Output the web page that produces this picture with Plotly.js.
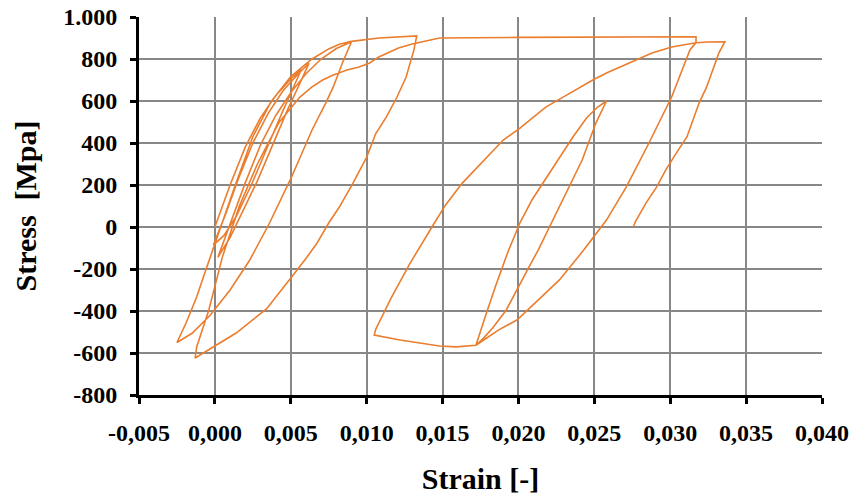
<!DOCTYPE html>
<html>
<head>
<meta charset="utf-8">
<script src="https://cdn.plot.ly/plotly-3.0.1.min.js"></script>
<style>html,body{margin:0;padding:0;background:#fff;}#chart{width:857px;height:504px;}</style>
</head>
<body>
<div id="chart"></div>
<script>
// ---- data ----
// small loops near the origin
const smallLoopsStrain = [0, 0.0010, 0.0020, 0.0030, 0.0040, 0.0050, 0.0057,
  0.0052, 0.0044, 0.0034, 0.0024, 0.0014, 0.0006, -0.0001,
  0.0007, 0.0015, 0.0025, 0.0035, 0.0045, 0.0055, 0.0062,
  0.0057, 0.0048, 0.0038, 0.0028, 0.0018, 0.0010, 0.0002,
  0.0010, 0.0020, 0.0030, 0.0040, 0.0050, 0.0060, 0.0070, 0.0080, 0.0090];
const smallLoopsStress = [0, 200, 380, 520, 625, 705, 750,
  670, 540, 370, 200, 50, -40, -86,
  60, 220, 400, 540, 650, 730, 780,
  700, 560, 390, 220, 70, -50, -144,
  10, 210, 390, 530, 640, 730, 800, 850, 882];
// unloading from 0.009 down to the first compression peak
const unloadAStrain = [0.0084, 0.0078, 0.0073, 0.0064, 0.0050, 0.0036, 0.0023, 0.0010, -0.0003, -0.0015, -0.0025];
const unloadAStress = [781, 667, 590, 462, 230, 19, -157, -300, -419, -506, -550];
// reloading from the compression peak to 0.0133
const reloadAStrain = [-0.0019, -0.0012, -0.0006, 0.0003, 0.0013, 0.0025, 0.0037, 0.0050, 0.0064, 0.0075, 0.0082, 0.0090, 0.0108, 0.0133];
const reloadAStress = [-457, -333, -205, -14, 190, 430, 597, 716, 800, 848, 870, 884, 900, 910];
// unloading to the second compression peak
const unloadBStrain = [0.0131, 0.0126, 0.0120, 0.0113, 0.0106, 0.0100, 0.0091, 0.0082, 0.0075, 0.0067, 0.0060, 0.0049, 0.0034, 0.0014, -0.0002, -0.0013];
const unloadBStress = [840, 714, 619, 524, 445, 333, 209, 95, 19, -80, -150, -252, -390, -505, -576, -624];
// reloading up to the plateau
const reloadBStrain = [-0.0012, -0.0004, 0.0005, 0.0016, 0.0028, 0.0042, 0.0049, 0.0056, 0.0064, 0.0071, 0.0078, 0.0087, 0.0095, 0.0102, 0.0108, 0.0115, 0.0121, 0.0130, 0.0139, 0.0148, 0.0200, 0.0250, 0.0317, 0.0317];
const reloadBStress = [-571, -395, -141, 97, 300, 495, 557, 619, 667, 700, 724, 748, 762, 781, 810, 833, 852, 871, 885, 900, 903, 905, 906, 878];
// unloading from the plateau end
const unloadCStrain = [0.0313, 0.0301, 0.0286, 0.0271, 0.0258, 0.0243, 0.0236, 0.0227, 0.0218, 0.0207, 0.0199, 0.0187, 0.0179, 0.0172];
const unloadCStress = [843, 620, 400, 190, 33, -110, -173, -252, -314, -386, -443, -490, -529, -563];
// inner loop
const innerUpStrain = [0.0178, 0.0185, 0.0193, 0.0201, 0.0209, 0.0218, 0.0227, 0.0236, 0.0245, 0.0252, 0.0258];
const innerUpStress = [-430, -280, -120, 20, 130, 230, 330, 430, 520, 570, 600];
const innerDownStrain = [0.0251, 0.0242, 0.0229, 0.0222, 0.0213, 0.0207, 0.0200, 0.0192, 0.0183, 0.0177, 0.0172];
const innerDownStress = [495, 319, 129, 20, -110, -190, -286, -395, -481, -529, -563];
// compression branch
const bottomStrain = [0.0159, 0.0148, 0.0139, 0.0122, 0.0105];
const bottomStress = [-571, -567, -557, -538, -515];
// last reloading and final unloading
const reloadDStrain = [0.0106, 0.0116, 0.0128, 0.0143, 0.0152, 0.0163, 0.0179, 0.0190, 0.0201, 0.0218, 0.0232, 0.0249, 0.0258, 0.0275, 0.0288, 0.0301, 0.0316, 0.0324, 0.0336];
const reloadDStress = [-487, -340, -180, 0, 105, 209, 333, 414, 471, 571, 629, 700, 733, 786, 829, 857, 876, 881, 882];
const finalStrain = [0.0332, 0.0328, 0.0324, 0.0319, 0.0315, 0.0311, 0.0304, 0.0297, 0.0291, 0.0284, 0.0277, 0.0276];
const finalStress = [828, 748, 667, 590, 510, 429, 352, 271, 190, 114, 24, 5];

const xTickVals = [-0.005, 0, 0.005, 0.010, 0.015, 0.020, 0.025, 0.030, 0.035, 0.040];
const xTickText = ["-0,005", "0,000", "0,005", "0,010", "0,015", "0,020", "0,025", "0,030", "0,035", "0,040"];
const yTickVals = [-800, -600, -400, -200, 0, 200, 400, 600, 800, 1000];
const yTickText = ["-800", "-600", "-400", "-200", "0", "200", "400", "600", "800", "1.000"];

const strain = [].concat(smallLoopsStrain, unloadAStrain, reloadAStrain, unloadBStrain, reloadBStrain,
  unloadCStrain, innerUpStrain, innerDownStrain, bottomStrain, reloadDStrain, finalStrain);
const stress = [].concat(smallLoopsStress, unloadAStress, reloadAStress, unloadBStress, reloadBStress,
  unloadCStress, innerUpStress, innerDownStress, bottomStress, reloadDStress, finalStress);

const tickFont = {family: "Liberation Serif, Times New Roman, serif", size: 24, color: "#000", weight: "bold"};
const titleFont = {family: "Liberation Serif, Times New Roman, serif", size: 30, color: "#000", weight: "bold"};

const trace = {
  x: strain, y: stress, type: "scatter", mode: "lines",
  line: {color: "#EA7D2E", width: 1.6},
  hoverinfo: "skip", showlegend: false
};

const layout = {
  width: 857, height: 504,
  margin: {l: 139, r: 35, t: 17, b: 109, autoexpand: false},
  paper_bgcolor: "#fff", plot_bgcolor: "#fff",
  showlegend: false,
  xaxis: {
    range: [-0.005, 0.040], tickvals: xTickVals, ticktext: xTickText,
    showgrid: true, gridcolor: "#878787", gridwidth: 2, zeroline: false,
    showline: true, linecolor: "#000", linewidth: 3,
    ticks: "outside", ticklen: 6, tickwidth: 3, tickcolor: "#000",
    tickfont: tickFont, ticklabelstandoff: 8, automargin: false,
    title: {text: "Strain [-]", font: titleFont, standoff: 24}
  },
  yaxis: {
    range: [-800, 1000], tickvals: yTickVals, ticktext: yTickText,
    showgrid: true, gridcolor: "#878787", gridwidth: 2, zeroline: false,
    showline: true, linecolor: "#000", linewidth: 3,
    ticks: "outside", ticklen: 6, tickwidth: 3, tickcolor: "#000",
    tickfont: tickFont, ticklabelstandoff: 8, automargin: false,
    title: {text: "Stress  [Mpa]", font: titleFont, standoff: 18}
  }
};

Plotly.newPlot("chart", [trace], layout, {staticPlot: true, displayModeBar: false});
</script>
</body>
</html>
